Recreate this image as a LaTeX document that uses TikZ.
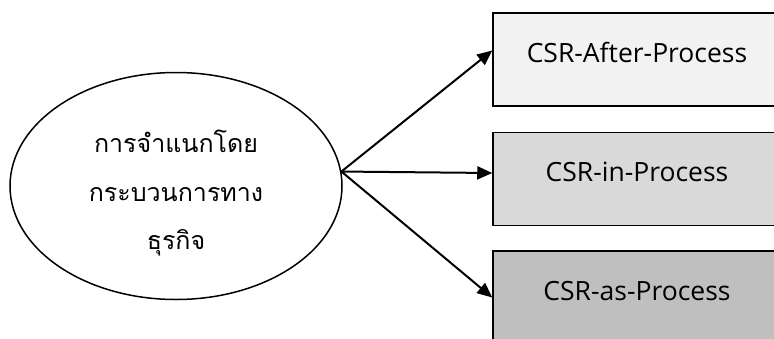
\documentclass[tikz,border=0pt]{standalone}
\usepackage{fontspec}
\setmainfont{Open Sans}
\newfontfamily\thaifont[Script=Thai]{Loma}
\usepackage{tikz}
\usetikzlibrary{shapes.geometric, arrows.meta}

\tikzset{
  csrbox/.style={draw, line width=1.5pt, minimum width=288pt, minimum height=93pt, text height=19pt, text depth=14pt, inner sep=0pt, font=\fontsize{26.5}{30}\selectfont},
  branch/.style={-{Triangle[length=15pt, width=13pt]}, line width=2pt}
}

\begin{document}
\begin{tikzpicture}[x=1pt, y=-1pt]
\clip (0,0) rectangle (774,338);
\node (E) at (176,186) [draw, ellipse, line width=1.5pt, minimum width=332pt, minimum height=227pt, inner sep=0pt] {};
\node (T) at (176,193) [align=center, font=\thaifont\fontsize{25}{48.5}\selectfont] {การจำแนกโดย\\กระบวนการทาง\\ธุรกิจ};
\node (A) at (637,59.5) [csrbox, fill={rgb,255:red,242;green,242;blue,242}] {CSR-After-Process};
\node (B) at (637,179) [csrbox, fill={rgb,255:red,217;green,217;blue,217}] {CSR-in-Process};
\node (C) at (637,297.5) [csrbox, fill={rgb,255:red,191;green,191;blue,191}] {CSR-as-Process};
\draw [branch] (E.5) -- ([yshift=9pt]A.west);
\draw [branch] (E.5) -- ([yshift=6pt]B.west);
\draw [branch] (E.5) -- (C.west);
\end{tikzpicture}
\end{document}
